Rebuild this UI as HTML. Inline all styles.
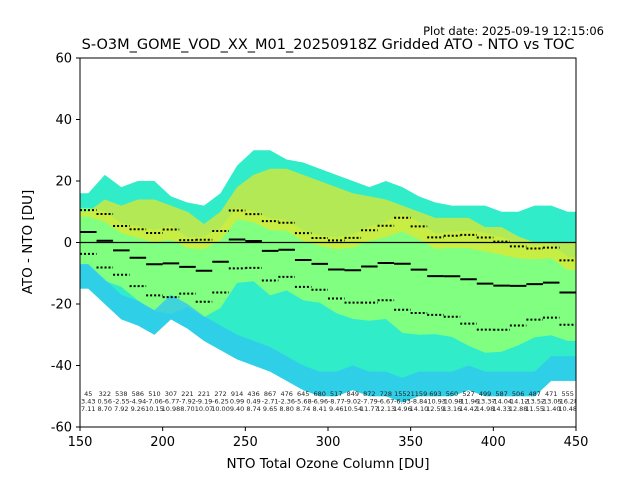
<!DOCTYPE html>
<html><head><meta charset="utf-8"><style>
body{margin:0;background:#fff;font-family:"Liberation Sans","DejaVu Sans",sans-serif;}
svg text{font-family:"DejaVu Sans","Liberation Sans",sans-serif;}
</style></head><body>
<svg id="chart" width="640" height="480" viewBox="0 0 640 480">
<text x="604" y="35" font-size="11.5" text-anchor="end">Plot date: 2025-09-19 12:15:06</text>
<text x="328" y="49" font-size="14.5" text-anchor="middle">S-O3M_GOME_VOD_XX_M01_20250918Z Gridded ATO - NTO vs TOC</text>
<defs><clipPath id="pc"><rect x="80" y="58" width="496" height="369"/></clipPath></defs>
<g id="plot" clip-path="url(#pc)"></g>
<rect x="80" y="58" width="496" height="369" fill="none" stroke="#000" stroke-width="1"/>
<g id="axes"></g>
<text x="328" y="468" font-size="13.5" text-anchor="middle">NTO Total Ozone Column [DU]</text>
<text x="32" y="242" font-size="13.5" text-anchor="middle" transform="rotate(-90 32 242)">ATO - NTO [DU]</text>
</svg>
<script>
const binCenters=[155,165,175,185,195,205,215,225,235,245,255,265,275,285,295,305,315,325,335,345,355,365,375,385,395,405,415,425,435,445];
const counts=[45,322,538,586,510,307,221,221,272,914,436,867,476,645,680,517,849,872,728,1552,1159,693,560,527,499,587,506,487,471,555];
const means=[3.43,0.56,-2.55,-4.94,-7.06,-6.77,-7.92,-9.19,-6.25,0.99,0.49,-2.71,-2.36,-5.68,-6.96,-8.77,-9.02,-7.79,-6.67,-6.93,-8.84,-10.93,-10.98,-11.96,-13.37,-14.04,-14.12,-13.52,-13.05,-16.28];
const stds=[7.11,8.70,7.92,9.26,10.15,10.98,8.70,10.07,10.00,9.40,8.74,9.65,8.80,8.74,8.41,9.46,10.54,11.77,12.13,14.96,14.10,12.59,13.16,14.42,14.98,14.33,12.88,11.55,11.40,10.48];
const upperEnv=[16,22,18,20,20,15,13,12,16,25,30,30,27,26,24,22,20,18,20,18,15,13,12,12,12,10,10,12,12,10];
const lowerEnv=[-15,-20,-25,-27,-30,-25,-28,-32,-35,-38,-40,-42,-45,-48,-50,-50,-48,-50,-50,-52,-50,-50,-50,-48,-50,-50,-50,-50,-45,-45];
const yellowTop=[10,14,12,14,14,12,10,6,10,18,22,24,24,22,20,18,16,15,14,12,10,8,8,8,5,5,2,0,0,0];
const xTicks=[150,200,250,300,350,400,450];
const yTicks=[60,40,20,0,-20,-40,-60];
const X=v=>80+(v-150)*496/300, Y=v=>58+(60-v)*369/120;
const NS='http://www.w3.org/2000/svg';
const plot=document.getElementById('plot'), axes=document.getElementById('axes');
function mk(tag,at,par){const e=document.createElementNS(NS,tag);for(const k in at)e.setAttribute(k,at[k]);par.appendChild(e);return e;}
function band(top,bot,fill,name,op){
  let pts=[X(150)+','+Y(top[0])];
  binCenters.forEach((c,i)=>{pts.push(X(c)+','+Y(top[i]));});
  pts.push(X(450)+','+Y(top[top.length-1]));
  pts.push(X(450)+','+Y(bot[bot.length-1]));
  for(let i=binCenters.length-1;i>=0;i--){pts.push(X(binCenters[i])+','+Y(bot[i]));}
  pts.push(X(150)+','+Y(bot[0]));
  const p=mk('polygon',{points:pts.join(' '),fill:fill,'fill-opacity':op||1},plot);
  
  
}
band(upperEnv,lowerEnv,'#30ecc8','scatter-envelope');
band(means.map((m,i)=>m+stds[i]*1.1),means.map((m,i)=>m-stds[i]*1.5),'#80ff80','scatter-core');
band(yellowTop,means.map((m,i)=>Math.min(yellowTop[i],m+stds[i]*0.7)),'#e0e830','scatter-high-band',0.75);
band(lowerEnv.map(v=>v+8),lowerEnv,'#30c8f0','scatter-low-band',0.8);
const z=mk('line',{x1:80,x2:576,y1:Y(0),y2:Y(0),stroke:'#000','stroke-width':1.2},plot);


binCenters.forEach((c,i)=>{
  const m=mk('line',{x1:X(c-5),x2:X(c+5),y1:Y(means[i]),y2:Y(means[i]),stroke:'#000','stroke-width':2},plot);
  
  
  [1,-1].forEach(s=>{
    const d=mk('line',{x1:X(c-5),x2:X(c+5),y1:Y(means[i]+s*stds[i]),y2:Y(means[i]+s*stds[i]),stroke:'#000','stroke-width':2,'stroke-dasharray':'2,2'},plot);
    
    
  });
  const t=mk('text',{x:X(c),y:396,'font-size':6.5,'text-anchor':'middle',fill:'#222'},plot);
  
  
  [counts[i],means[i].toFixed(2),stds[i].toFixed(2)].forEach((s,k)=>{const ts=mk('tspan',{x:X(c),dy:k?7.5:0},t);ts.textContent=s;});
});
xTicks.forEach(v=>{
  mk('line',{x1:X(v),x2:X(v),y1:427,y2:431,stroke:'#000'},axes);
  const t=mk('text',{x:X(v),y:446,'font-size':13,'text-anchor':'middle'},axes);t.textContent=v;
  
  
});
yTicks.forEach(v=>{
  mk('line',{x1:76,x2:80,y1:Y(v),y2:Y(v),stroke:'#000'},axes);
  const t=mk('text',{x:72,y:Y(v)+4.5,'font-size':13,'text-anchor':'end'},axes);t.textContent=v;
  
  
});
</script>
</body></html>
